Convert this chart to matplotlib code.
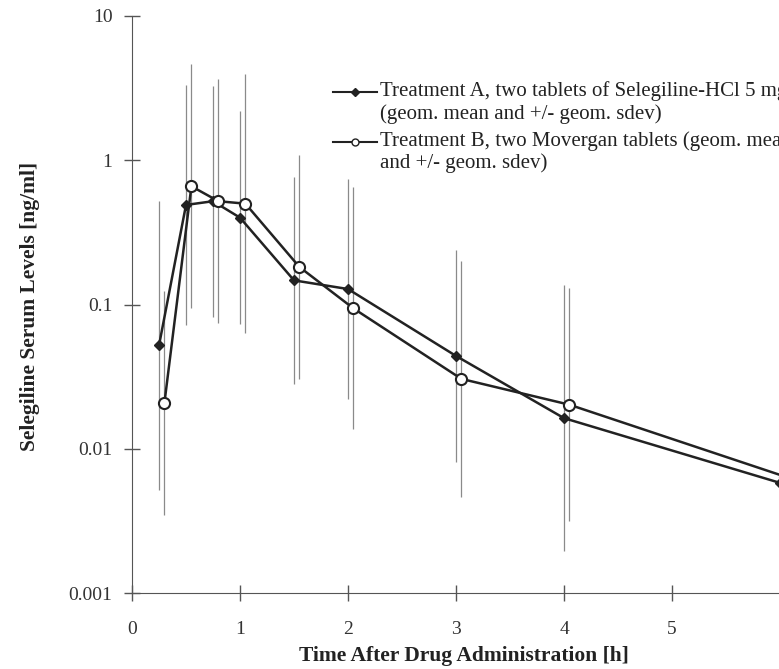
import numpy as np
import matplotlib.pyplot as plt

# sampling times [h]
hours = [0.25, 0.5, 0.75, 1.0, 1.5, 2.0, 3.0, 4.0, 6.0]
# geometric means [ng/ml]
trt_a = [0.052, 0.49, 0.52, 0.40, 0.147, 0.128, 0.044, 0.0163, 0.0058]
trt_b = [0.0207, 0.66, 0.52, 0.50, 0.182, 0.094, 0.0305, 0.0202, 0.0064]
# geometric sdev factors (bars are mean*/sd .. mean*sd)
sd_a = [10.0, 6.8, 6.3, 5.5, 5.2, 5.8, 5.4, 8.4]
sd_b = [6.0, 7.0, 7.0, 7.9, 6.0, 6.9, 6.6, 6.4]

yticks = [0.001, 0.01, 0.1, 1, 10]
ylabels = ['0.001', '0.01', '0.1', '1', '10']

label_a = "Treatment A, two tablets of Selegiline-HCl 5 mg\n(geom. mean and +/- geom. sdev)"
label_b = "Treatment B, two Movergan tablets (geom. mean\nand +/- geom. sdev)"

plt.rcParams['font.family'] = ['Liberation Serif', 'DejaVu Serif']

W, H = 779, 669
fig = plt.figure(figsize=(W / 100, H / 100), dpi=100)
ax = fig.add_axes([132 / W, 76 / H, 702 / W, 577 / H])

shift = 0.05  # B is drawn a bit to the right so the bars do not overlap
xa = np.array(hours)
xb = xa + shift

# error bars
ma = np.array(trt_a[:len(sd_a)])
mb = np.array(trt_b[:len(sd_b)])
ax.vlines(xa[:len(sd_a)], ma / np.array(sd_a), ma * np.array(sd_a),
          color='#8a8a8a', lw=0.9, zorder=1)
ax.vlines(xb[:len(sd_b)], mb / np.array(sd_b), mb * np.array(sd_b),
          color='#8a8a8a', lw=0.9, zorder=1)

ax.plot(xa, trt_a, color='#222222', lw=1.8, marker='D', ms=5.5,
        mfc='#222222', mec='#222222', zorder=3)
ax.plot(xb, trt_b, color='#222222', lw=1.8, marker='o', ms=8,
        mfc='white', mec='#222222', mew=1.5, zorder=4)

ax.set_yscale('log')
ax.set_ylim(0.001, 10)
ax.set_xlim(0, 6.5)
ax.set_yticks(yticks)
ax.set_yticklabels(ylabels)
ax.minorticks_off()
ax.set_xticks([0, 1, 2, 3, 4, 5])
ax.set_xticklabels(['0', '1', '2', '3', '4', '5'])

for s in ['top', 'right']:
    ax.spines[s].set_visible(False)
ax.spines['left'].set_color('#555555')
ax.spines['bottom'].set_color('#555555')
ax.tick_params(axis='both', direction='inout', length=12, width=1,
               color='#555555', labelsize=14, labelcolor='#333333')
ax.tick_params(axis='y', pad=8)
ax.tick_params(axis='x', pad=14)

fig.text(30 / W, 1 - 306 / H, 'Selegiline Serum Levels [ng/ml]', fontsize=15.5,
         fontweight='bold', color='#222222', rotation=90,
         ha='center', va='center')
fig.text(464 / W, 1 - 656 / H, 'Time After Drug Administration [h]', fontsize=15.5,
         fontweight='bold', color='#222222', ha='center', va='center')

# legend drawn by hand, it runs off the right edge like in the scan
def legend_row(y, marker, mfc, ms, text):
    fig.add_artist(plt.Line2D([333 / W, 377 / W], [y, y], color='#222222',
                              lw=1.5, transform=fig.transFigure))
    fig.add_artist(plt.Line2D([355 / W], [y], marker=marker, ms=ms, mfc=mfc,
                              mec='#222222', transform=fig.transFigure))
    fig.text(380 / W, y + 11 / H, text, fontsize=15, va='top', color='#222222',
             linespacing=1.2)

legend_row(1 - 92 / H, 'D', '#222222', 4, label_a)
legend_row(1 - 142 / H, 'o', 'white', 5, label_b)

fig.savefig('out.png', dpi=100)
